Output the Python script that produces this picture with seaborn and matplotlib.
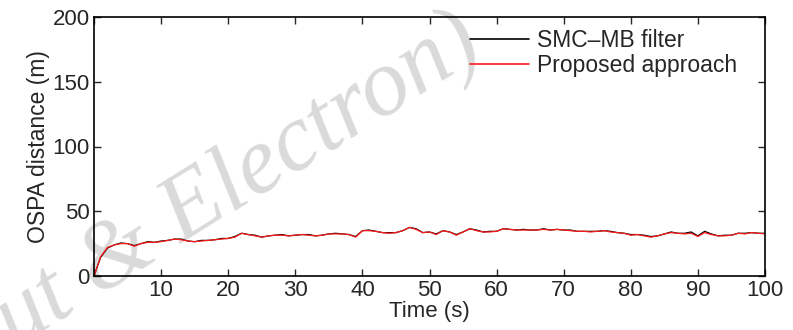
import numpy as np
import pandas as pd
import seaborn as sns
import matplotlib.pyplot as plt

sns.set_style("ticks")
plt.rcParams['font.family'] = ['Liberation Sans', 'DejaVu Sans']

time_s = list(range(0, 101))

proposed = [0, 15, 22, 24, 25, 25, 23, 25, 26, 26, 26.5,
            27.5, 28.5, 28, 27, 26.5, 27, 27.5, 28, 28.5, 29,
            30, 33, 32, 31, 30, 31, 31.5, 31.5, 31, 31.5,
            32, 31.5, 31, 31.5, 32.5, 32.5, 32.5, 32, 30, 35,
            35, 34.5, 33.5, 33, 33.5, 35, 37.5, 36, 33.5, 34,
            32, 35, 34, 31.5, 34, 36.5, 35, 34, 34, 34.5,
            36.5, 36, 35.5, 35.5, 35.5, 35.5, 36, 35.5, 36, 35.5,
            35, 34.5, 34.5, 34, 34.5, 35, 34, 33.5, 33, 31.5,
            32, 31, 30, 31, 32.5, 33.5, 33, 32.5, 33, 30.5,
            33.5, 32, 31, 31, 31.5, 33, 32.5, 33.5, 33, 32.5]

smc_mb = [0, 14.5, 21.5, 24, 25.5, 25, 23.5, 25, 26.5, 26, 27,
          27.5, 28.5, 28.5, 27, 26.5, 27.5, 27.5, 28, 29, 29,
          30.5, 33, 32, 31.5, 30, 31, 31.5, 32, 31, 31.5,
          32, 32, 31, 31.5, 32.5, 33, 32.5, 32, 30.5, 35,
          35.5, 34.5, 33.5, 33.5, 33.5, 35, 37.5, 36.5, 33.5, 34,
          32.5, 35, 34, 32, 34, 36.5, 35.5, 34, 34.5, 34.5,
          36.5, 36, 35.5, 36, 35.5, 35.5, 36.5, 35.5, 36, 35.5,
          35.5, 34.5, 34.5, 34.5, 34.5, 35, 34.5, 33.5, 33, 32,
          32, 31.5, 30.5, 31, 32.5, 34, 33, 33, 34, 31,
          34.5, 32.5, 31, 31.5, 31.5, 33, 33, 33.5, 33, 33]

methods = ["SMC\u2013MB filter", "Proposed approach"]
colors = {methods[0]: "black", methods[1]: "#ff1a1a"}

x_ticks = list(range(0, 101, 10))
x_tick_labels = [""] + [str(t) for t in x_ticks[1:]]
y_ticks = [0, 50, 100, 150, 200]

df = pd.concat([
    pd.DataFrame({"Time": time_s, "OSPA": smc_mb, "method": methods[0]}),
    pd.DataFrame({"Time": time_s, "OSPA": proposed, "method": methods[1]}),
])

fig = plt.figure(figsize=(7.93, 3.30), dpi=100)
ax = fig.add_axes([94 / 793, 1 - 276 / 330, 671 / 793, 259 / 330])
ax.set_facecolor("none")

# faint watermark behind the plot
fig.text(0.30, 0.45, "ut & Electron)", family="Liberation Serif", style="italic",
         fontsize=69, color="#dadada", rotation=32, ha="center", va="center",
         rotation_mode="anchor", zorder=-5)

sns.lineplot(data=df, x="Time", y="OSPA", hue="method", palette=colors,
             linewidth=0.9, ax=ax, legend=True)

ax.set_xlim(0, 100)
ax.set_ylim(0, 200)
ax.set_xticks(x_ticks)
ax.set_xticklabels(x_tick_labels)
ax.set_yticks(y_ticks)
ax.tick_params(direction="in", length=5, width=1, labelsize=16,
               top=True, right=True, pad=3)
for s in ax.spines.values():
    s.set_visible(True)
    s.set_linewidth(1.2)
    s.set_color("black")

ax.set_xlabel("Time (s)", fontsize=16, labelpad=0)
ax.set_ylabel("OSPA distance (m)", fontsize=16.5, labelpad=2)

leg = ax.legend(loc="upper left", bbox_to_anchor=(0.56, 0.955), frameon=False,
                fontsize=16.5, handlelength=2.6, handletextpad=0.35,
                labelspacing=0.12, borderpad=0, borderaxespad=0)
for line in leg.get_lines():
    line.set_linewidth(1.2)

fig.savefig("out.png", dpi=100)
